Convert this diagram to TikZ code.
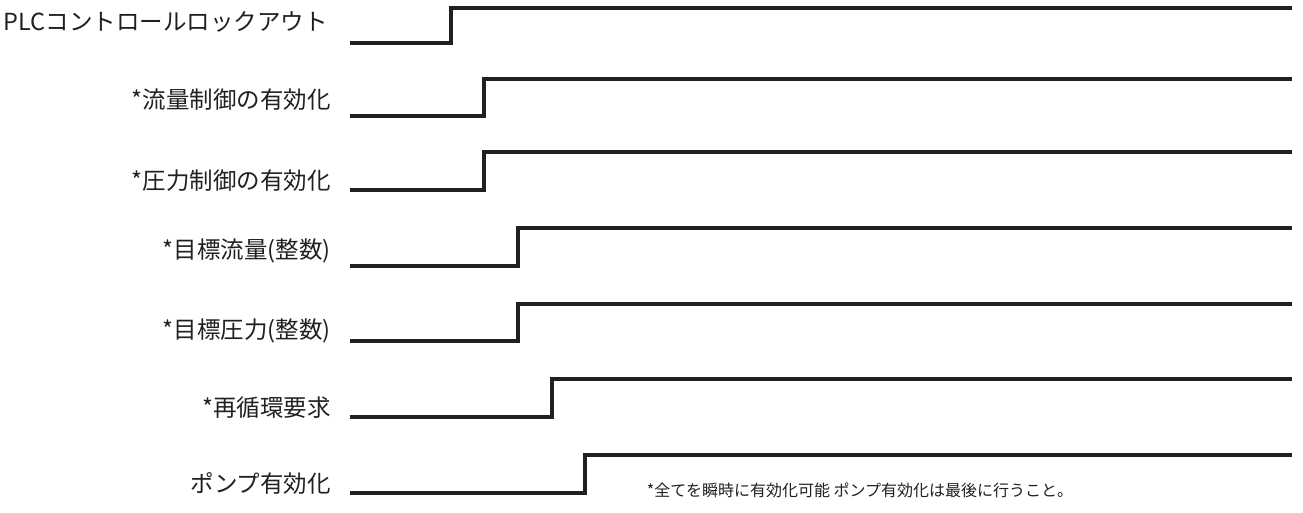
\documentclass[tikz,border=0pt]{standalone}
\usepackage{fontspec}
\newfontfamily\jp{Noto Sans CJK JP}
\definecolor{ink}{HTML}{231F20}
\tikzset{
  sig/.style={draw=ink, line width=4.3pt, line join=miter, line cap=butt},
  lbl/.style={anchor=east, inner sep=0pt, text=ink, font=\jp\fontsize{23.5pt}{27pt}\selectfont},
  note/.style={anchor=center, inner sep=0pt, text=ink, font=\jp\fontsize{16pt}{19pt}\selectfont}
}
\begin{document}
\begin{tikzpicture}[x=1pt,y=-1pt]
\useasboundingbox (0,0) rectangle (1303,513);
% labels
\node[lbl] (l1) at (328,22) {PLCコントロールロックアウト};
\node[lbl] (l2) at (331,100) {*流量制御の有効化};
\node[lbl] (l3) at (331,181) {*圧力制御の有効化};
\node[lbl] (l4) at (331,251) {*目標流量(整数)};
\node[lbl] (l5) at (331,331) {*目標圧力(整数)};
\node[lbl] (l6) at (331,408) {*再循環要求};
\node[lbl] (l7) at (331,484) {ポンプ有効化};
% signals
\foreach \i/\lo/\hi/\sx in {1/43/8/451, 2/116/79/484, 3/190/152/484, 4/266/228/518, 5/341/304/518, 6/417/379/552, 7/493/455/585}{
  \coordinate (s\i a) at (350,\lo);
  \coordinate (s\i b) at (\sx,\lo);
  \coordinate (s\i c) at (\sx,\hi);
  \coordinate (s\i d) at (1292,\hi);
  \draw[sig] (s\i a) -- (s\i b) -- (s\i c) -- (s\i d);
}
\node[note] (n) at (860,490) {*全てを瞬時に有効化可能\ ポンプ有効化は最後に行うこと。};
\end{tikzpicture}
\end{document}
